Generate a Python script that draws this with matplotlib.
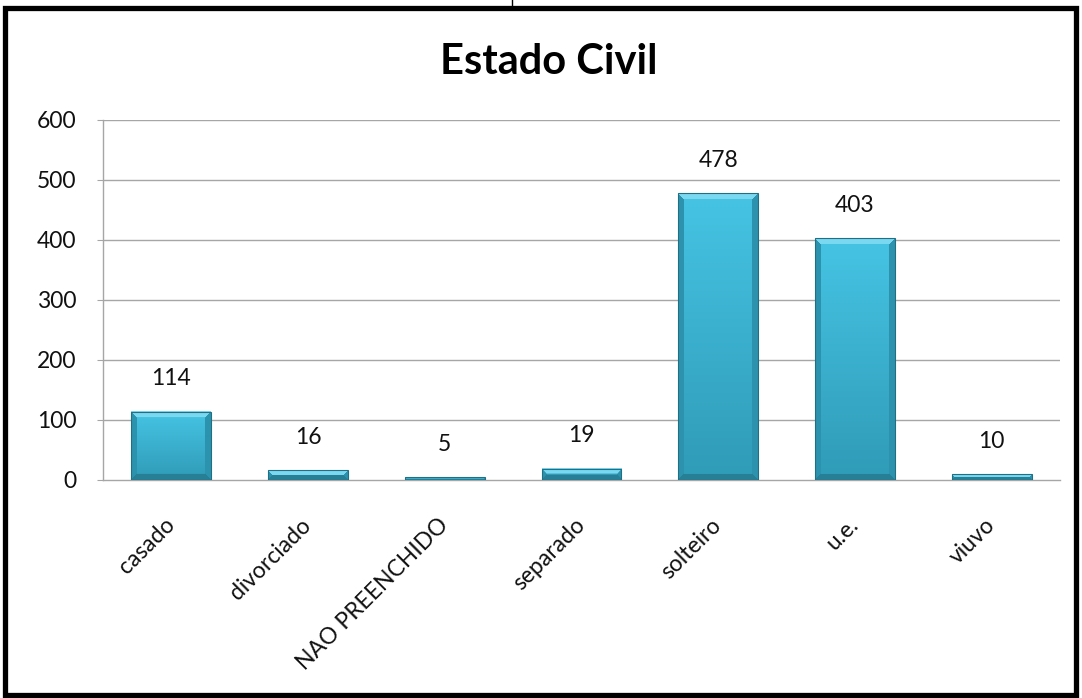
import numpy as np
import matplotlib.pyplot as plt
from matplotlib.lines import Line2D
from matplotlib.patches import Rectangle
from matplotlib.colors import to_rgb

categories = ['casado', 'divorciado', 'NAO PREENCHIDO', 'separado', 'solteiro', 'u.e.', 'viuvo']
values = [114, 16, 5, 19, 478, 403, 10]
yticks = [0, 100, 200, 300, 400, 500, 600]
title = 'Estado Civil'

plt.rcParams['font.family'] = ['Lato', 'DejaVu Sans']

W, H, DPI = 1082, 698, 100
fig = plt.figure(figsize=(W / DPI, H / DPI), dpi=DPI)
fig.patch.set_facecolor('white')

# plot area in pixels: x 103..1060, y 120..480
L, R, T, B = 103, 1060, 120, 480
ax = fig.add_axes([L / W, 1 - B / H, (R - L) / W, (B - T) / H])

n = len(categories)
ax.set_xlim(-0.5, n - 0.5)
ax.set_ylim(0, 600)
px_x = (R - L) / n          # pixels per category
px_y = (B - T) / 600        # pixels per unit

grid_c = '#A6A6A6'
txt_c = '#111111'
for y in yticks[1:]:
    ax.axhline(y, color=grid_c, lw=1, zorder=1)
for s in ['top', 'right']:
    ax.spines[s].set_visible(False)
for s in ['left', 'bottom']:
    ax.spines[s].set_color(grid_c)
    ax.spines[s].set_linewidth(1)

ax.set_yticks(yticks)
ax.set_yticklabels([str(t) for t in yticks], fontsize=16.5, color=txt_c)
ax.tick_params(axis='y', length=4, color=grid_c, pad=15)
ax.set_xticks(range(n))
ax.set_xticklabels(categories, rotation=45, ha='right', va='center',
                   rotation_mode='anchor', fontsize=16.5, color=txt_c)
ax.tick_params(axis='x', length=0, pad=30)

# beveled bar rendering
face_top = np.array(to_rgb('#46C4E4'))
face_bot = np.array(to_rgb('#2F9BB7'))
bevel_top = np.array(to_rgb('#7AD8F0'))
bevel_side = np.array(to_rgb('#2C93AE'))
bevel_bot = np.array(to_rgb('#277F96'))
width = 0.585
bev = 6


def bar_image(wpx, hpx):
    wpx = max(int(round(wpx)), 2)
    hpx = max(int(round(hpx)), 2)
    jj, ii = np.meshgrid(np.arange(wpx) + 0.5, np.arange(hpx) + 0.5)
    t = ii / hpx
    img = face_top[None, None, :] * (1 - t[..., None]) + face_bot[None, None, :] * t[..., None]
    b = min(bev, hpx / 2)
    d = np.stack([ii, hpx - ii, jj, wpx - jj])
    near = d.argmin(axis=0)
    edge = d.min(axis=0) < b
    for k, c in enumerate([bevel_top, bevel_bot, bevel_side, bevel_side]):
        img[edge & (near == k)] = c
    return img


for i, v in enumerate(values):
    x0, x1 = i - width / 2, i + width / 2
    img = bar_image(width * px_x, v * px_y)
    ax.imshow(img, extent=(x0, x1, 0, v), aspect='auto', origin='upper',
              interpolation='bilinear', zorder=3)
    ax.add_patch(Rectangle((x0, 0), width, v, fill=False, ec='#226F84',
                           lw=0.8, zorder=4))
    ax.annotate(str(v), (i, v), xytext=(0, 19), textcoords='offset points',
                ha='center', va='baseline', fontsize=16.5, color=txt_c)

ax.set_xlim(-0.5, n - 0.5)
ax.set_ylim(0, 600)

fig.text(549 / W, 1 - 62 / H, title, ha='center', va='center',
         fontsize=30, fontweight='bold', color='black')

# outer frame
fig.patches.append(Rectangle((5 / W, 1 - 695 / H), 1071 / W, 687 / H,
                             transform=fig.transFigure, fill=False,
                             ec='black', lw=3.8))
fig.add_artist(Line2D([512 / W, 512 / W], [1, 1 - 6 / H], color='black', lw=1))

fig.savefig('out.png', dpi=DPI)
